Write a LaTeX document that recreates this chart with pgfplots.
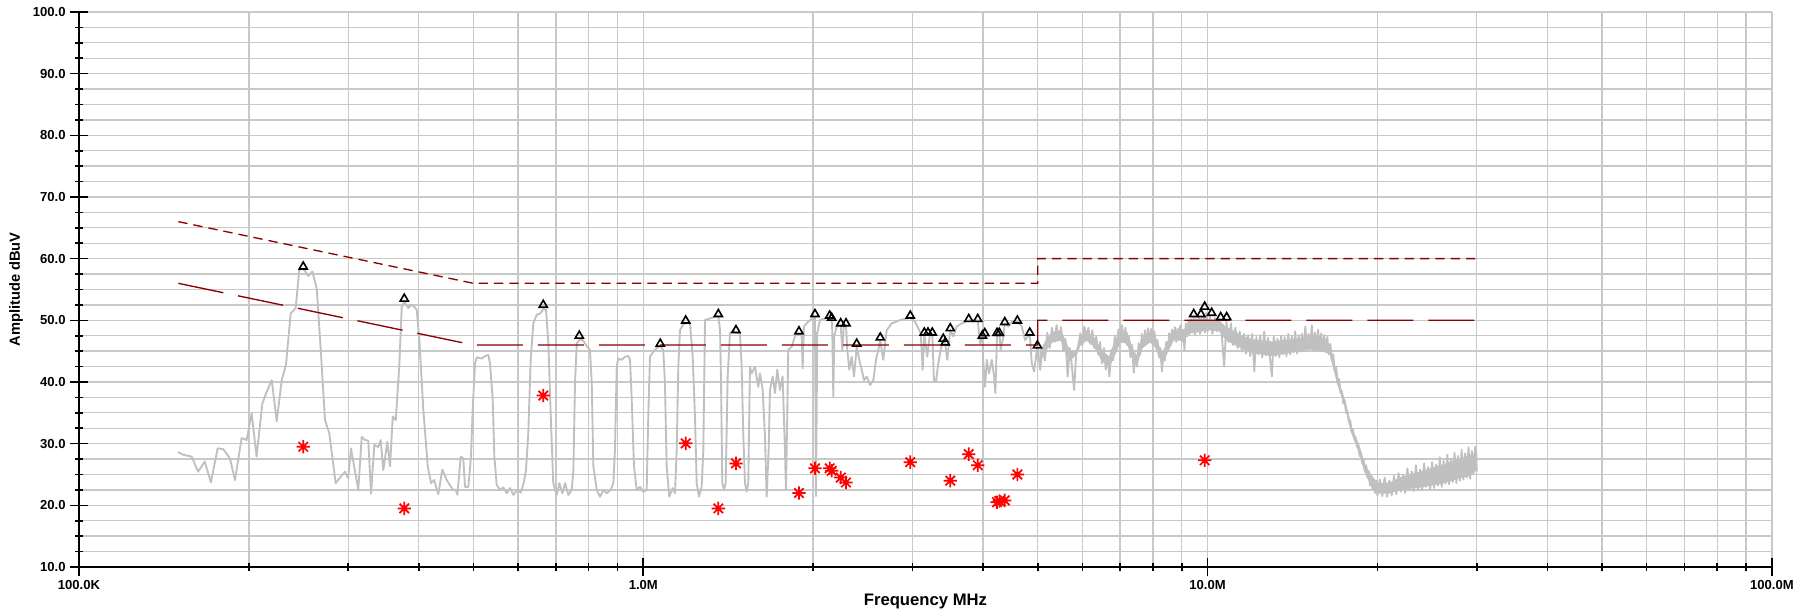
\documentclass[border=0pt]{standalone}
\usepackage{fontspec}
\setmainfont{Liberation Sans}
\usepackage{pgfplots}
\usepackage{pgfplotstable}
\pgfplotsset{compat=1.18}

\definecolor{gridgray}{RGB}{200,200,200}
\definecolor{tracegray}{RGB}{192,192,192}
\definecolor{limred}{RGB}{140,0,0}

\pgfdeclareplotmark{ast8}{%
  \pgfpathmoveto{\pgfqpoint{-\pgfplotmarksize}{0pt}}\pgfpathlineto{\pgfqpoint{\pgfplotmarksize}{0pt}}%
  \pgfpathmoveto{\pgfqpoint{0pt}{-\pgfplotmarksize}}\pgfpathlineto{\pgfqpoint{0pt}{\pgfplotmarksize}}%
  \pgfpathmoveto{\pgfqpoint{-0.7071\pgfplotmarksize}{-0.7071\pgfplotmarksize}}\pgfpathlineto{\pgfqpoint{0.7071\pgfplotmarksize}{0.7071\pgfplotmarksize}}%
  \pgfpathmoveto{\pgfqpoint{-0.7071\pgfplotmarksize}{0.7071\pgfplotmarksize}}\pgfpathlineto{\pgfqpoint{0.7071\pgfplotmarksize}{-0.7071\pgfplotmarksize}}%
  \pgfusepathqstroke}

% measured trace, frequency in MHz, level in dBuV
\pgfplotstableread{
f db
0.150 28.6
0.153 28.2
0.1584 27.9
0.1626 25.45
0.1671 27.1
0.1713 23.7
0.1761 29.25
0.1802 29.1
0.1852 27.6
0.1890 24.1
0.1942 30.9
0.1982 30.6
0.2023 34.9
0.2064 27.9
0.2113 36.5
0.2151 38.4
0.2196 40.3
0.2241 33.6
0.2287 40.3
0.2327 42.8
0.2372 51.1
0.2421 52.0
0.2457 58.2
0.2497 58.4
0.2550 57.2
0.2592 57.9
0.2638 55.2
0.2682 45.2
0.2729 33.8
0.2777 31.7
0.2850 23.6
0.2960 25.45
0.3000 24.4
0.3034 29.25
0.3126 22.5
0.3170 31.1
0.3213 30.6
0.3256 30.5
0.3293 21.9
0.3337 29.8
0.3392 29.45
0.3425 30.6
0.3462 25.7
0.3519 30.3
0.3558 26.3
0.3598 34.4
0.3642 33.8
0.3695 42.5
0.3732 52.2
0.3771 53.0
0.3834 52.0
0.3876 52.5
0.3929 52.2
0.3968 51.7
0.4010 46.8
0.4076 35.5
0.4150 26.3
0.4206 23.6
0.4258 24.1
0.4333 21.8
0.4404 25.8
0.4484 24.1
0.4563 23.0
0.4606 22.5
0.4652 22.5
0.4683 21.7
0.4748 27.9
0.4798 27.6
0.4832 23.0
0.4897 23.0
0.4951 27.9
0.4985 35.5
0.5033 43.0
0.5068 44.0
0.5172 43.8
0.5243 44.2
0.5314 44.4
0.5351 43.0
0.5410 37.1
0.5445 28.0
0.5499 23.3
0.5574 22.5
0.5649 22.9
0.5728 21.95
0.5806 22.8
0.5885 21.7
0.5981 22.5
0.6066 22.05
0.6147 23.8
0.6197 25.7
0.6255 31.7
0.6317 43.6
0.6384 49.5
0.6474 50.9
0.6562 51.1
0.6649 51.8
0.6726 51.7
0.6789 46.3
0.6856 34.4
0.6926 23.6
0.7026 21.7
0.7101 23.6
0.7188 21.95
0.7268 23.6
0.7367 21.7
0.7470 22.5
0.7519 25.7
0.7569 39.8
0.7624 46.3
0.7702 46.8
0.7812 46.8
0.7960 45.7
0.8046 45.2
0.8104 39.8
0.8157 26.3
0.8271 22.5
0.8383 21.4
0.8497 22.5
0.8616 21.95
0.8756 22.5
0.8850 23.6
0.8909 29.0
0.8973 42.5
0.9032 43.8
0.9158 43.6
0.9282 44.1
0.9408 44.2
0.9474 43.6
0.9540 37.1
0.9628 26.3
0.9736 22.5
0.9868 23.0
1.0000 22.2
1.0140 22.5
1.0206 34.4
1.0277 44.1
1.0416 44.9
1.0562 45.5
1.0718 45.8
1.0850 45.2
1.0925 39.8
1.1001 26.3
1.1118 21.4
1.1274 22.8
1.1382 21.95
1.1461 29.0
1.1536 42.5
1.1616 48.4
1.1745 49.2
1.1890 49.6
1.2100 49.5
1.2234 44.1
1.2349 34.4
1.2435 23.6
1.2553 21.4
1.2692 23.0
1.2776 29.0
1.2865 50.05
1.3130 50.3
1.3402 50.6
1.3584 50.7
1.3679 48.4
1.3735 39.8
1.3804 23.6
1.3900 22.5
1.3996 23.6
1.4111 40.9
1.4244 47.9
1.4437 48.4
1.4597 48.0
1.4837 47.9
1.4940 42.5
1.5038 31.7
1.5143 23.6
1.5248 22.2
1.5348 23.6
1.5455 42.5
1.5562 41.4
1.5774 42.5
1.5988 39.2
1.6099 41.4
1.6278 38.7
1.6431 31.1
1.6545 21.4
1.6681 29.0
1.6770 38.7
1.6955 40.9
1.7115 38.2
1.7276 42.0
1.7468 38.7
1.7661 40.9
1.7828 29.0
1.7900 22.5
1.7995 34.4
1.8069 45.2
1.8321 45.7
1.8570 47.4
1.8876 47.9
1.9085 47.4
1.9163 42.2
1.9265 49.0
1.9606 49.8
1.9962 50.3
2.0150 50.6
2.0232 21.5
2.0340 47.9
2.0565 50.05
2.0989 50.3
2.1396 50.4
2.1571 50.0
2.1624 48.4
2.1713 37.6
2.1801 47.4
2.2017 49.0
2.2379 49.2
2.2526 45.2
2.2683 49.5
2.2869 49.2
2.2990 45.2
2.3179 42.0
2.3407 44.1
2.3628 40.9
2.3890 45.7
2.4145 43.6
2.4383 42.0
2.4613 40.3
2.4885 40.9
2.5223 39.5
2.5565 40.3
2.5848 43.6
2.6092 45.2
2.6303 46.8
2.6627 43.6
2.6999 48.4
2.7556 49.5
2.8124 49.8
2.8505 50.05
2.9295 50.3
2.9728 50.5
3.0304 49.8
3.0715 48.7
3.1017 47.9
3.1271 42.0
3.1476 47.8
3.1863 44.1
3.2216 47.9
3.2520 47.8
3.2746 40.3
3.3015 40.0
3.3326 43.0
3.3654 45.2
3.4013 46.8
3.4292 46.2
3.4573 43.6
3.4999 48.5
3.5430 47.4
3.5925 49.0
3.6666 49.5
3.7741 50.0
3.8455 50.05
3.9152 50.0
3.9521 46.3
3.9894 47.3
4.0057 43.0
4.0336 39.2
4.0617 43.6
4.1000 41.4
4.1454 43.6
4.1845 40.9
4.2067 38.2
4.2359 47.8
4.2759 47.8
4.3004 45.2
4.3463 47.4
4.3712 49.5
4.4359 49.0
4.4979 49.8
4.6018 49.8
4.6851 49.0
4.7489 46.8
4.8409 47.8
4.8806 43.0
4.9263 41.7
4.9936 45.9
5.05 42.0
5.10 45.5
5.15 43.5
5.20 48.0
5.25 45.5
5.30 48.8
5.35 46.5
5.40 49.2
5.45 46.8
5.50 48.9
5.55 45.0
5.60 47.0
5.65 40.9
5.70 45.5
5.75 42.5
5.80 38.7
5.85 44.5
5.90 45.8
5.95 47.9
6.00 46.0
6.05 49.0
6.10 46.8
6.15 48.8
6.20 46.2
6.25 48.4
6.30 45.5
6.35 47.4
6.40 44.5
6.45 46.5
6.50 43.0
6.55 45.5
6.60 42.0
6.65 44.0
6.70 40.9
6.75 45.2
6.80 43.5
6.85 47.5
6.90 45.5
6.95 48.5
7.00 46.5
7.05 49.2
7.10 46.8
7.15 48.8
7.20 46.0
7.25 47.5
7.30 44.0
7.35 46.0
7.40 41.5
7.45 44.5
7.50 42.5
7.55 46.3
7.60 44.5
7.65 47.8
7.70 45.8
7.75 48.4
7.80 46.2
7.85 48.7
7.90 46.5
7.95 48.6
8.00 46.0
8.05 48.2
8.10 45.5
8.15 46.8
8.20 44.0
8.25 45.5
8.30 41.7
8.35 44.5
8.40 43.5
8.45 46.5
8.50 45.0
8.55 47.9
8.60 46.3
8.65 48.5
8.70 46.8
8.75 48.9
8.80 46.5
8.85 48.7
8.90 47.0
8.95 49.2
9.00 46.5
9.05 48.5
9.10 45.2
9.15 49.5
9.20 47.4
9.25 50.0
9.30 47.8
9.35 50.2
9.40 48.0
9.45 50.6
9.50 47.5
9.55 50.2
9.60 48.2
9.65 50.5
9.70 47.8
9.75 50.6
9.80 48.4
9.85 50.8
9.90 48.0
9.95 51.2
10.0 48.2
10.1 50.6
10.2 47.8
10.3 50.4
10.4 48.2
10.5 50.2
10.6 47.5
10.7 42.5
10.8 49.8
10.9 46.5
11.0 49.5
11.1 46.0
11.2 48.8
11.3 45.5
11.4 48.2
11.5 45.0
11.6 47.8
11.7 44.6
11.8 47.6
11.9 44.2
12.0 47.8
12.1 41.7
12.2 47.3
12.3 44.5
12.4 47.6
12.5 44.0
12.6 48.2
12.7 44.3
12.8 47.2
12.9 43.8
13.0 40.9
13.1 47.4
13.2 44.2
13.3 47.0
13.4 44.0
13.5 47.5
13.6 44.5
13.7 47.3
13.8 44.2
13.9 47.8
14.0 44.5
14.1 47.4
14.2 44.8
14.3 48.2
14.4 44.6
14.5 47.6
14.6 44.9
14.7 47.8
14.8 45.0
14.9 49.0
15.0 45.2
15.1 47.8
15.2 45.3
15.3 49.2
15.4 45.0
15.5 48.0
15.6 45.4
15.7 48.5
15.8 45.2
15.9 47.9
16.0 45.0
16.1 47.6
16.2 44.8
16.3 47.3
16.4 44.5
16.5 46.2
16.6 43.5
16.7 44.5
16.8 41.8
16.9 42.5
17.0 40.0
17.1 40.5
17.2 38.2
17.3 38.5
17.4 36.5
17.5 37.0
17.6 35.0
17.7 35.2
17.8 33.5
17.9 33.8
18.0 32.0
18.1 32.3
18.2 30.8
18.3 31.0
18.4 29.5
18.5 29.8
18.6 28.0
18.7 28.5
18.8 26.8
18.9 27.5
19.0 25.5
19.1 26.5
19.2 24.5
19.3 25.5
19.4 23.2
19.5 24.8
19.6 22.5
19.7 24.3
19.8 22.0
19.9 24.0
20.0 21.6
20.2 24.2
20.4 21.5
20.6 24.5
20.8 21.4
21.0 24.0
21.2 21.6
21.4 24.8
21.6 21.8
21.8 25.2
22.0 22.2
22.2 25.0
22.4 22.0
22.6 26.0
22.8 22.5
23.0 25.5
23.2 22.3
23.4 26.5
23.6 22.6
23.8 25.8
24.0 22.4
24.2 26.8
24.4 23.0
24.6 26.2
24.8 22.6
25.0 27.0
25.2 22.8
25.4 26.6
25.6 23.2
25.8 27.8
26.0 23.0
26.2 27.2
26.4 23.5
26.6 28.2
26.8 23.4
27.0 27.6
27.2 23.8
27.4 28.5
27.6 23.6
27.8 28.0
28.0 24.0
28.2 29.0
28.4 24.2
28.6 28.4
28.8 24.5
29.0 29.4
29.2 24.3
29.4 28.8
29.6 25.0
29.8 29.5
30.0 25.5
}\trace

% solid core of the noise band above 5 MHz: upper edge forward, lower edge back
\pgfplotstableread{
f db
5.05 45.0
5.20 47.0
5.30 48.0
5.50 48.3
5.60 46.5
5.70 45.0
5.85 45.0
5.95 47.0
6.10 48.3
6.30 47.0
6.50 45.0
6.70 44.0
6.85 46.5
7.00 48.0
7.20 48.0
7.35 45.5
7.50 44.0
7.65 47.0
7.90 48.0
8.10 47.0
8.30 44.5
8.45 46.0
8.70 48.0
9.00 48.0
9.30 49.5
9.70 50.0
10.0 50.0
10.5 49.8
10.8 48.8
11.5 47.5
12.0 46.8
13.0 46.5
14.0 46.8
15.0 47.2
16.0 46.8
16.5 45.5
17.0 40.5
17.5 37.0
18.0 32.5
18.5 30.0
19.0 26.5
19.5 24.8
20.0 23.5
21.0 23.6
22.0 24.5
23.0 25.0
24.0 25.5
25.0 26.0
26.0 26.5
27.0 27.0
28.0 27.5
29.0 28.0
30.0 28.5
30.0 25.8
29.0 24.8
28.0 24.5
27.0 24.0
26.0 23.6
25.0 23.3
24.0 23.0
23.0 22.8
22.0 22.6
21.0 22.0
20.0 22.0
19.5 23.3
19.0 25.5
18.5 29.0
18.0 31.8
17.5 36.3
17.0 39.7
16.5 44.5
16.0 45.2
15.0 45.4
14.0 44.8
13.0 44.3
12.0 44.8
11.5 45.5
10.8 46.8
10.5 48.3
10.0 48.5
9.70 48.2
9.30 48.0
9.00 46.8
8.70 46.8
8.45 44.5
8.30 43.0
8.10 45.7
7.90 46.5
7.65 45.5
7.50 43.0
7.35 44.2
7.20 46.3
7.00 46.5
6.85 44.5
6.70 42.5
6.50 43.5
6.30 45.8
6.10 46.8
5.95 46.0
5.85 44.5
5.70 43.5
5.60 45.0
5.50 46.8
5.30 46.5
5.20 45.5
5.05 43.5
}\band

\begin{document}
\begin{tikzpicture}
\path[use as bounding box] (0,0) rectangle (1356pt,459.75pt);
\begin{axis}[
  at={(59.25pt,34.5pt)}, anchor=south west,
  scale only axis, width=1269.75pt, height=416.25pt,
  xmode=log, xmin=0.1, xmax=100, ymin=10, ymax=100,
  xtick={0.1,1,10,100},
  xticklabels={\textbf{100.0K},\textbf{1.0M},\textbf{10.0M},\textbf{100.0M}},
  minor xtick={0.2,0.3,0.4,0.5,0.6,0.7,0.8,0.9,2,3,4,5,6,7,8,9,20,30,40,50,60,70,80,90},
  ytick={10,20,30,40,50,60,70,80,90,100},
  yticklabels={\textbf{10.0},\textbf{20.0},\textbf{30.0},\textbf{40.0},\textbf{50.0},\textbf{60.0},\textbf{70.0},\textbf{80.0},\textbf{90.0},\textbf{100.0}},
  minor y tick num=3,
  grid=both,
  major grid style={gridgray, line width=1pt},
  minor grid style={gridgray, line width=1pt},
  axis x line*=bottom, axis y line*=left,
  axis line style={black, line width=1.5pt},
  tick align=center,
  major tick length=13pt, minor tick length=6pt,
  tick style={black, line width=1.2pt},
  ticklabel style={font=\bfseries\fontsize{9.8}{11}\selectfont},
  xlabel={Frequency MHz}, ylabel={Amplitude dBuV},
  xlabel style={font=\bfseries\fontsize{12.5}{14}\selectfont, at={(axis description cs:0.5,-0.063)}, anchor=center},
  ylabel style={font=\bfseries\fontsize{11}{13}\selectfont, at={(axis description cs:-0.0372,0.5)}, anchor=center},
]
\addplot[fill=tracegray, draw=tracegray, line width=0.8pt, line join=round, mark=none] table[x=f, y=db] {\band} -- cycle;
\addplot[tracegray, line width=1.4pt, line join=round, line cap=round, mark=none] table[x=f, y=db] {\trace};

\addplot[limred, line width=1pt, dash pattern=on 7pt off 4.5pt, mark=none]
  coordinates {(0.15,66) (0.5,56) (5,56) (5,60) (30,60)};
\addplot[limred, line width=1pt, dash pattern=on 34.5pt off 11.25pt, mark=none]
  coordinates {(0.15,56) (0.5,46) (5,46) (5,50) (30,50)};

\addplot[only marks, mark=triangle, mark size=3.5pt, mark options={black, line width=1.2pt, solid}]
  coordinates {(0.2497,58.7) (0.3771,53.5) (0.6649,52.5) (0.7702,47.5) (1.0718,46.2) (1.1890,49.95) (1.3584,51.0) (1.4597,48.4) (1.8876,48.2) (2.0150,51.0) (2.1396,50.75) (2.1571,50.4) (2.2379,49.5) (2.2869,49.5) (2.3890,46.2) (2.6303,47.2) (2.9728,50.75) (3.1476,48.0) (3.1954,48.0) (3.2520,48.0) (3.4013,47.0) (3.4292,46.4) (3.4999,48.7) (3.7741,50.2) (3.9152,50.2) (3.9894,47.5) (4.0287,47.9) (4.2359,47.95) (4.2759,47.95) (4.3712,49.7) (4.6018,49.95) (4.8409,48.0) (4.9936,45.9) (9.449,51.0) (9.733,51.0) (9.882,52.2) (10.169,51.2) (10.549,50.5) (10.81,50.5)};

\addplot[only marks, mark=ast8, mark size=5pt, mark options={red, line width=1.3pt, solid}]
  coordinates {(0.2497,29.5) (0.3771,19.5) (0.6649,37.8) (1.1890,30.05) (1.3584,19.5) (1.4597,26.8) (1.8876,22.0) (2.0150,26.0) (2.1396,26.0) (2.1571,25.6) (2.2379,24.5) (2.2869,23.7) (2.9728,27.0) (3.4999,24.0) (3.7741,28.3) (3.9152,26.5) (4.2359,20.5) (4.2759,20.7) (4.3712,20.8) (4.6018,25.0) (9.882,27.3)};
\end{axis}
\end{tikzpicture}
\end{document}
